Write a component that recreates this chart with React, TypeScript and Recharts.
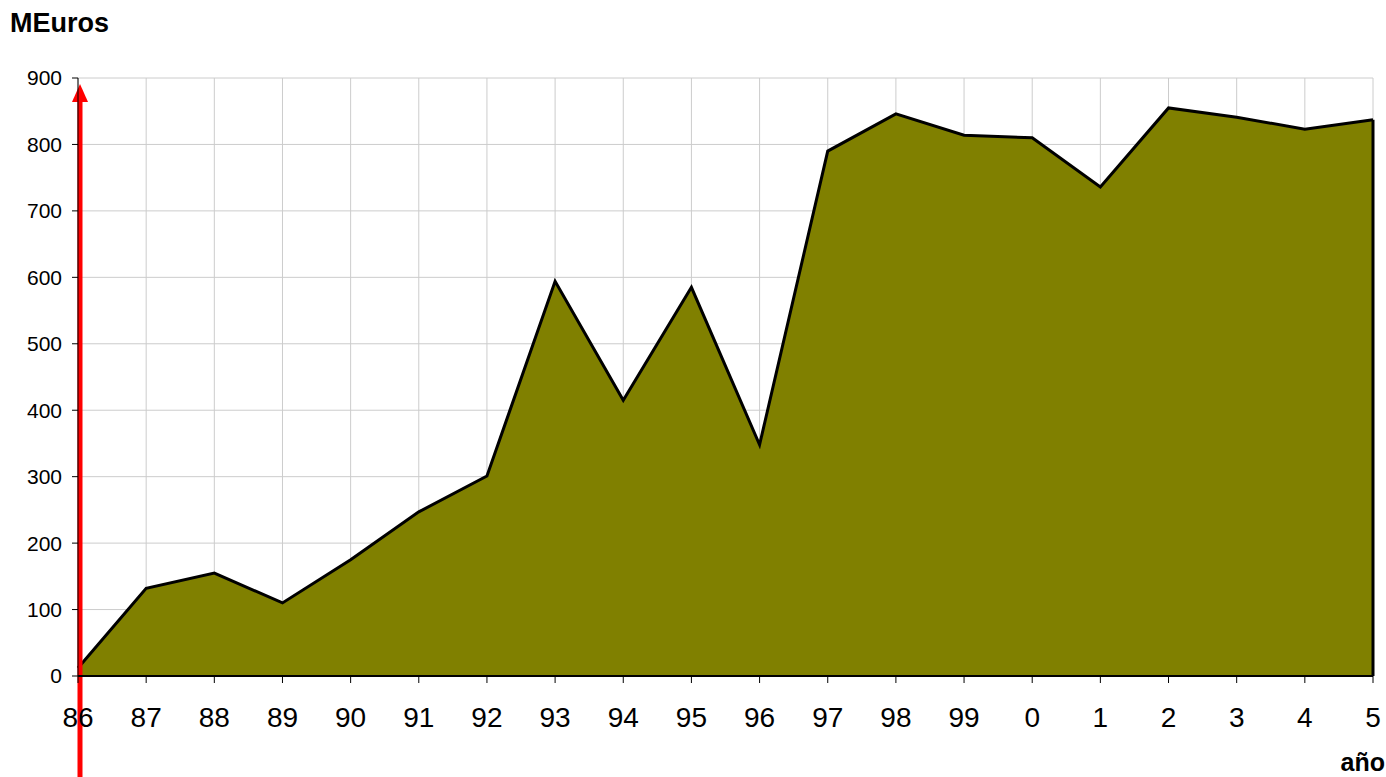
import { AreaChart, Area, XAxis, YAxis, CartesianGrid, ReferenceLine } from 'recharts';

const years = ['86', '87', '88', '89', '90', '91', '92', '93', '94', '95', '96', '97', '98', '99', '0', '1', '2', '3', '4', '5'];
const meuros = [12, 132, 155, 110, 175, 247, 301, 594, 415, 585, 348, 790, 846, 814, 810, 736, 855, 841, 823, 837];
const yTicks = [0, 100, 200, 300, 400, 500, 600, 700, 800, 900];

const data = years.map((y, i) => ({ year: y, value: meuros[i] }));

const font = '"Liberation Sans", Arial, sans-serif';

// red arrow drawn along the y axis, running below the plot to the page edge
// eslint-disable-next-line @typescript-eslint/no-explicit-any
function RedArrow(props: any) {
  const { x1, y1, y2 } = props;
  const top = Math.min(y1, y2);
  const x = x1 + 2;
  return (
    <g>
      <line x1={x} y1={777} x2={x} y2={top + 18} stroke="#ff0000" strokeWidth={5} />
      <polygon points={`${x - 8},${top + 24} ${x + 8},${top + 24} ${x},${top + 6}`} fill="#ff0000" />
    </g>
  );
}

export default function App() {
  return (
    <div style={{ position: 'absolute', left: 0, top: 0, width: 1386, height: 777, background: '#fff' }}>
      <div style={{ position: 'absolute', left: 10, top: 8, fontFamily: font, fontWeight: 'bold', fontSize: 27 }}>
        MEuros
      </div>
      <div style={{ position: 'absolute', right: 1, top: 748, fontFamily: font, fontWeight: 'bold', fontSize: 25 }}>
        año
      </div>
      <AreaChart width={1386} height={777} data={data} margin={{ top: 78, right: 13, left: 0, bottom: 0 }}>
        <CartesianGrid stroke="#cccccc" strokeWidth={1} />
        <XAxis
          dataKey="year"
          height={101}
          axisLine={{ stroke: '#000', strokeWidth: 2 }}
          tickLine={{ stroke: '#000' }}
          tickSize={7}
          tickMargin={24}
          interval={0}
          tick={{ fontSize: 28, fill: '#000', fontFamily: font }}
        />
        <YAxis
          width={78}
          domain={[0, 900]}
          ticks={yTicks}
          interval={0}
          axisLine={{ stroke: '#000' }}
          tickLine={{ stroke: '#000' }}
          tickSize={6}
          tickMargin={10}
          tick={{ fontSize: 21, fill: '#000', fontFamily: font }}
        />
        <Area
          type="linear"
          dataKey="value"
          fill="#808000"
          fillOpacity={1}
          stroke="#000"
          strokeWidth={3}
          isAnimationActive={false}
        />
        <ReferenceLine
          segment={[{ x: '5', y: 0 }, { x: '5', y: meuros[meuros.length - 1] }]}
          stroke="#000"
          strokeWidth={3}
        />
        <ReferenceLine x="86" stroke="#ff0000" shape={RedArrow} />
      </AreaChart>
    </div>
  );
}
